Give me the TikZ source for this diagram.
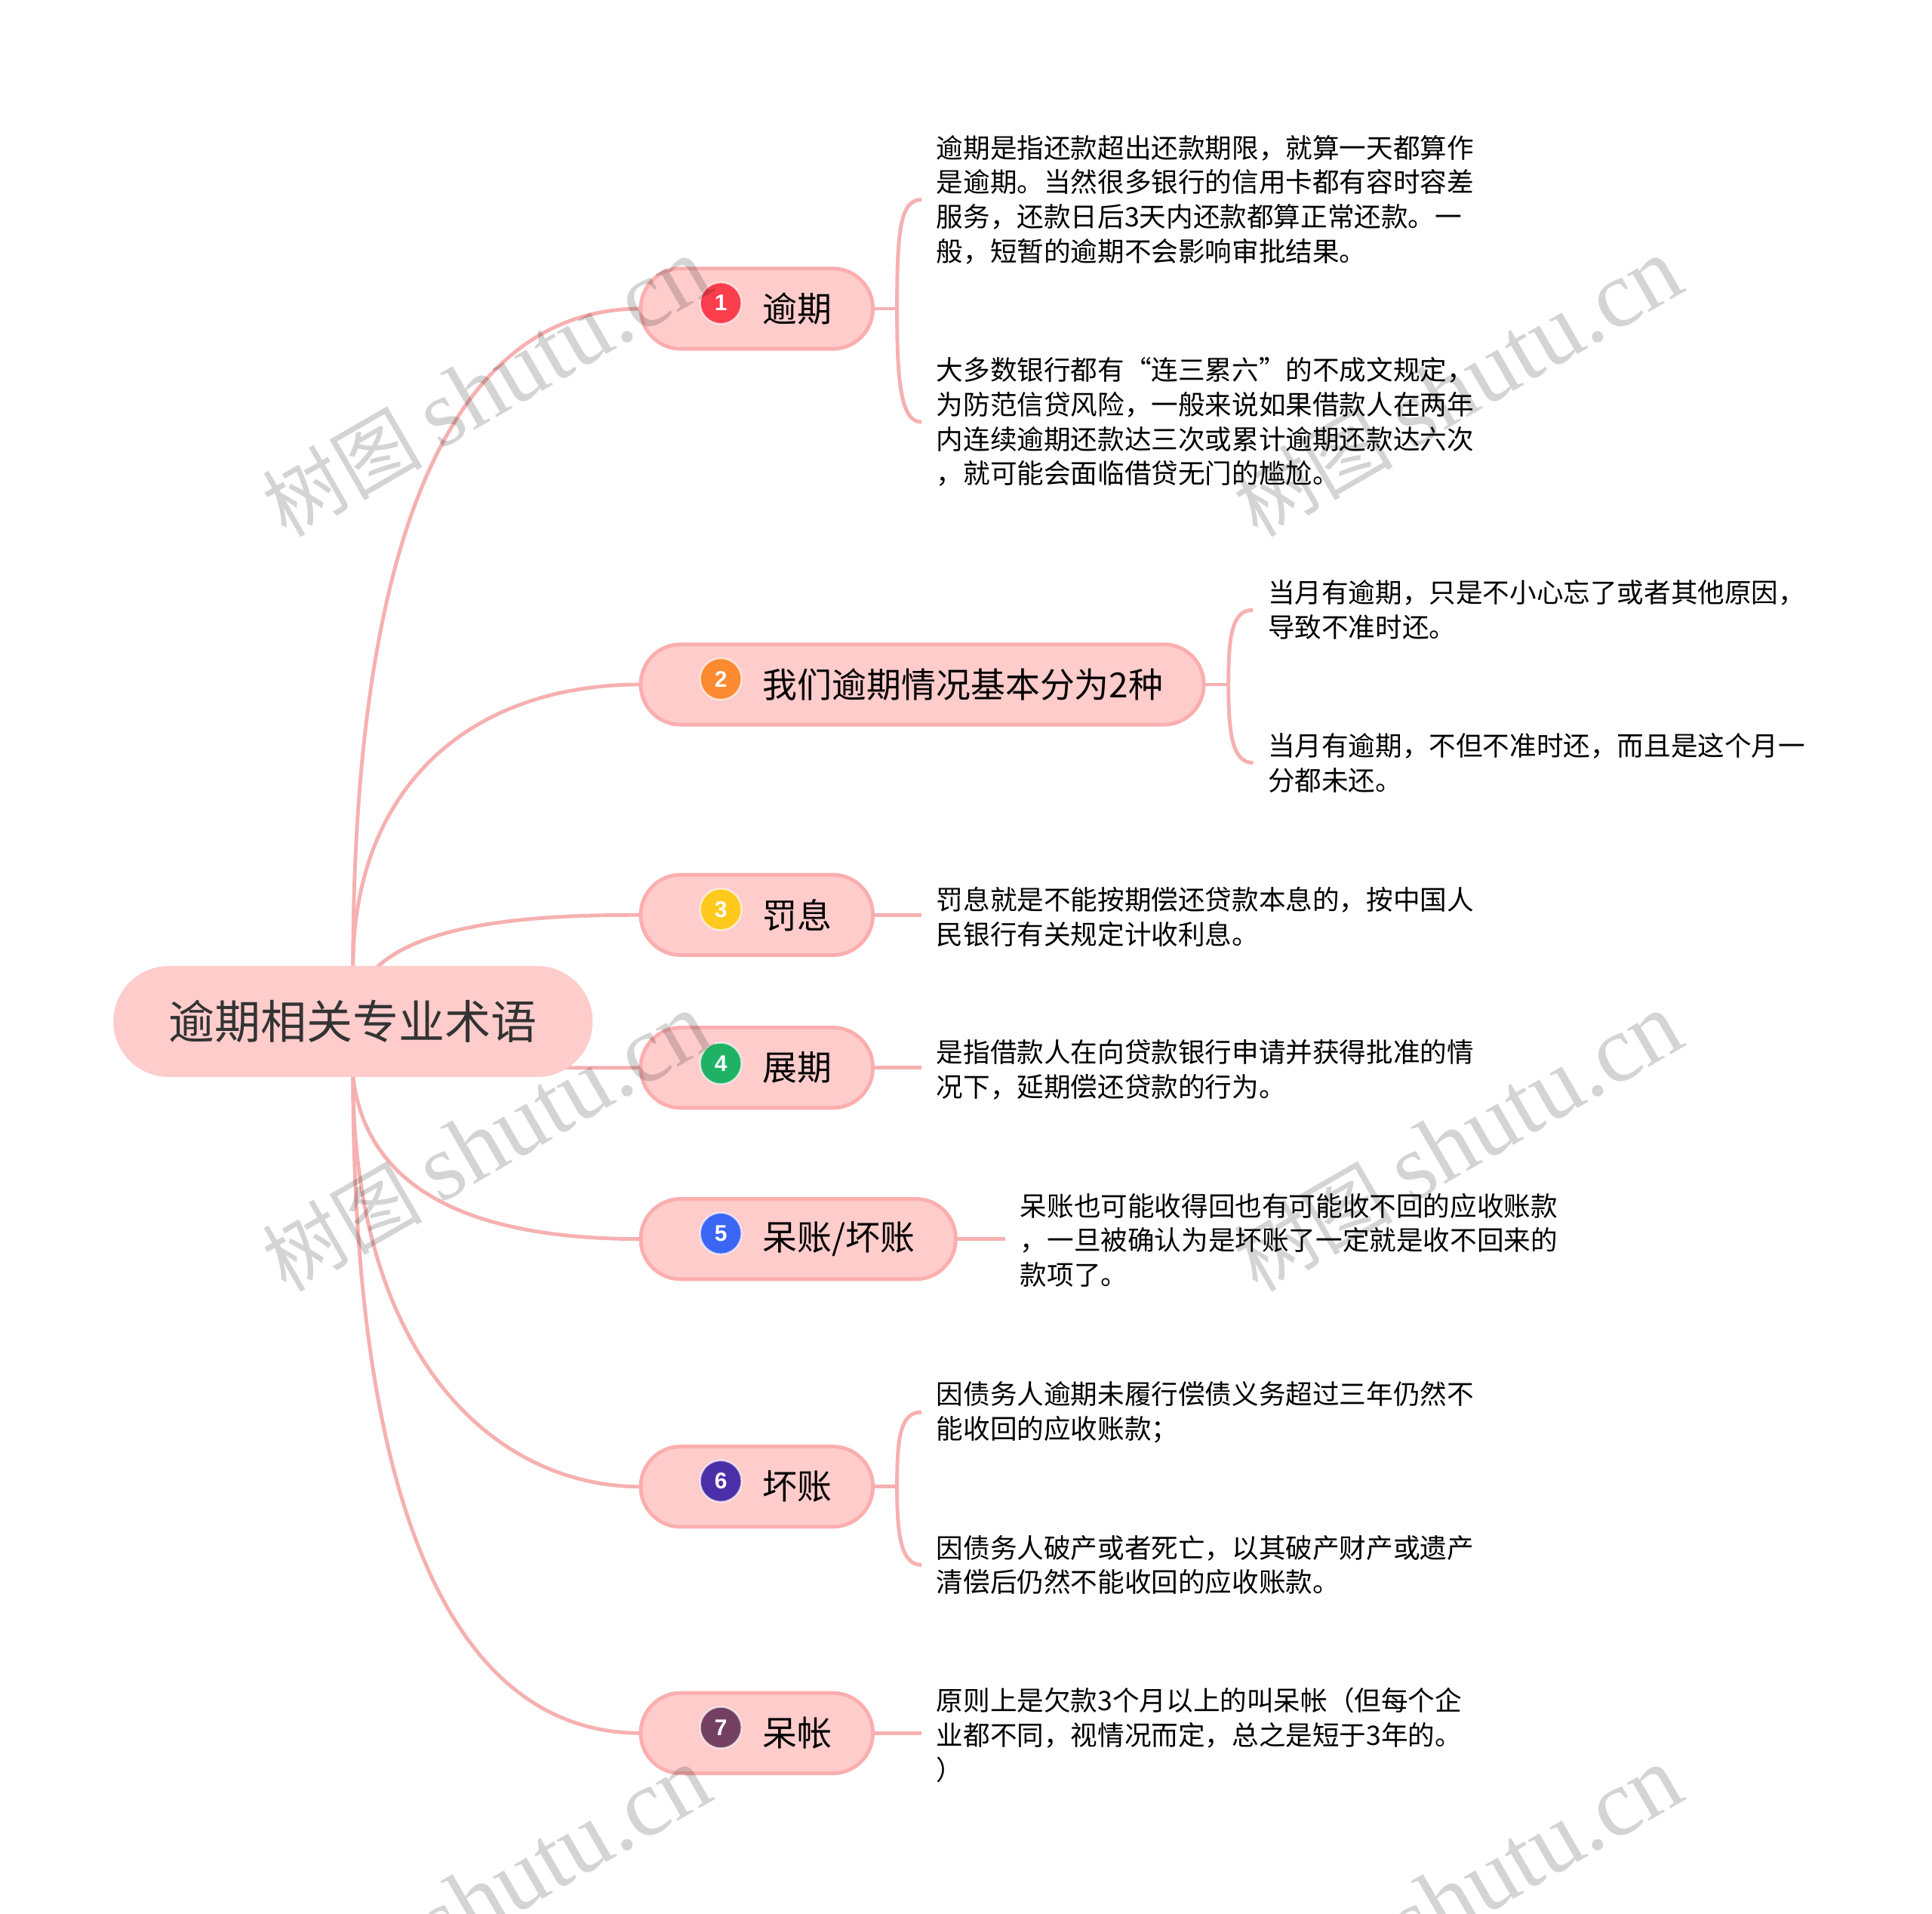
\documentclass[tikz,border=0pt]{standalone}
\usepackage{fontspec}
\setmainfont{Noto Sans CJK SC}
\newfontfamily\digitfont{Liberation Sans}
\newfontfamily\markfont{Liberation Serif}
\usetikzlibrary{backgrounds}
\definecolor{linkpink}{HTML}{F6B0B0}
\definecolor{fillpink}{HTML}{FFCCCC}
\definecolor{borderpink}{HTML}{FBAEAE}
\definecolor{rootink}{HTML}{333333}
\definecolor{badgered}{HTML}{FA3E4B}
\definecolor{badgeorange}{HTML}{FB8A30}
\definecolor{badgeyellow}{HTML}{FFC91E}
\definecolor{badgegreen}{HTML}{1FB265}
\definecolor{badgeblue}{HTML}{3B66F5}
\definecolor{badgeindigo}{HTML}{4A2FA8}
\definecolor{badgeplum}{HTML}{744062}
\newcommand{\badgegap}{\hspace*{53.9pt}}
\begin{document}
\begin{tikzpicture}[x=0.8163pt,y=-0.8163pt,
rootbox/.style={fill=fillpink,text=rootink,rounded corners=36.7pt,minimum width=317.5pt,minimum height=73.5pt,inner sep=0pt,outer sep=0pt,font=\fontsize{30.5}{36}\selectfont},
topicbox/.style={anchor=west,draw=borderpink,fill=fillpink,line width=2.45pt,rounded corners=26.5pt,minimum height=53.2pt,inner xsep=27pt,inner ysep=0pt,outer sep=0pt,text=black,font=\fontsize{22.95}{28}\selectfont},
leafbox/.style={anchor=west,align=left,inner xsep=9.8pt,inner ysep=0pt,outer sep=0pt,text=black,font=\fontsize{17.8}{22.86}\selectfont},
badge/.style={circle,draw=white,draw opacity=.65,line width=1.2pt,minimum size=27.5pt,inner sep=0pt,text=white,font=\digitfont\bfseries\fontsize{15}{15}\selectfont},
link/.style={draw=linkpink,line width=2.45pt},
markbox/.style={rotate=30,text=black,text opacity=.17,inner sep=0pt}]
\useasboundingbox (0,0) rectangle (1568,1553);
\node[rootbox] (root) at (286.5,829) {逾期相关专业术语};
\node[topicbox] (n1) at (520,250.5) {\badgegap 逾期};
\node[topicbox] (n2) at (520,555.5) {\badgegap 我们逾期情况基本分为2种};
\node[topicbox] (n3) at (520,742.5) {\badgegap 罚息};
\node[topicbox] (n4) at (520,866.5) {\badgegap 展期};
\node[topicbox] (n5) at (520,1005.5) {\badgegap 呆账/坏账};
\node[topicbox] (n6) at (520,1206.5) {\badgegap 坏账};
\node[topicbox] (n7) at (520,1406.5) {\badgegap 呆帐};
\node[badge,fill=badgered] (b1) at (585,246) {1};
\node[badge,fill=badgeorange] (b2) at (585,551) {2};
\node[badge,fill=badgeyellow] (b3) at (585,738) {3};
\node[badge,fill=badgegreen] (b4) at (585,863) {4};
\node[badge,fill=badgeblue] (b5) at (585,1001) {5};
\node[badge,fill=badgeindigo] (b6) at (585,1202) {6};
\node[badge,fill=badgeplum] (b7) at (585,1402) {7};
\node[leafbox] (l1a) at (748,162) {逾期是指还款超出还款期限，就算一天都算作\\是逾期。当然很多银行的信用卡都有容时容差\\服务，还款日后3天内还款都算正常还款。一\\般，短暂的逾期不会影响审批结果。};
\node[leafbox] (l1b) at (748,342.5) {大多数银行都有“连三累六”的不成文规定，\\为防范信贷风险，一般来说如果借款人在两年\\内连续逾期还款达三次或累计逾期还款达六次\\，就可能会面临借贷无门的尴尬。};
\node[leafbox] (l2a) at (1017,495) {当月有逾期，只是不小心忘了或者其他原因，\\导致不准时还。};
\node[leafbox] (l2b) at (1017,619) {当月有逾期，不但不准时还，而且是这个月一\\分都未还。};
\node[leafbox] (l3) at (748,744) {罚息就是不能按期偿还贷款本息的，按中国人\\民银行有关规定计收利息。};
\node[leafbox] (l4) at (748,868) {是指借款人在向贷款银行申请并获得批准的情\\况下，延期偿还贷款的行为。};
\node[leafbox] (l5) at (816,1006.5) {呆账也可能收得回也有可能收不回的应收账款\\，一旦被确认为是坏账了一定就是收不回来的\\款项了。};
\node[leafbox] (l6a) at (748,1146) {因债务人逾期未履行偿债义务超过三年仍然不\\能收回的应收账款；};
\node[leafbox] (l6b) at (748,1270) {因债务人破产或者死亡，以其破产财产或遗产\\清偿后仍然不能收回的应收账款。};
\node[leafbox] (l7) at (748,1408) {原则上是欠款3个月以上的叫呆帐（但每个企\\业都不同，视情况而定，总之是短于3年的。\\）};
\coordinate (f1) at (728,250.5);
\coordinate (f2) at (997,555.5);
\coordinate (f6) at (728,1206.5);
\begin{scope}[on background layer]
\draw[link] (root.north) .. controls (287,440) and (365,250.5) .. (n1.west);
\draw[link] (root.north) .. controls (287,640) and (380,555.5) .. (n2.west);
\draw[link] (root.center) .. controls (287,750) and (420,742.5) .. (n3.west);
\draw[link] (root.south) .. controls (287,866.5) and (400,866.5) .. (n4.west);
\draw[link] (root.south) .. controls (300,985) and (420,1005.5) .. (n5.west);
\draw[link] (root.south) .. controls (287,1100) and (400,1206.5) .. (n6.west);
\draw[link] (root.south) .. controls (287,1250) and (380,1406.5) .. (n7.west);
\draw[link] (n1.east) -- (f1);
\draw[link] (f1) .. controls (728,185) and (731,162) .. (l1a.west);
\draw[link] (f1) .. controls (728,310) and (731,342.5) .. (l1b.west);
\draw[link] (n2.east) -- (f2);
\draw[link] (f2) .. controls (997,515) and (1000,495) .. (l2a.west);
\draw[link] (f2) .. controls (997,595) and (1000,619) .. (l2b.west);
\draw[link] (n3.east) -- (n3.east -| l3.west);
\draw[link] (n4.east) -- (n4.east -| l4.west);
\draw[link] (n5.east) -- (n5.east -| l5.west);
\draw[link] (n6.east) -- (f6);
\draw[link] (f6) .. controls (728,1165) and (731,1146) .. (l6a.west);
\draw[link] (f6) .. controls (728,1245) and (731,1270) .. (l6b.west);
\draw[link] (n7.east) -- (n7.east -| l7.west);
\end{scope}
\begin{scope}
\clip (0,0) rectangle (1568,1553);
\foreach \mx/\my/\mname in {395/315/m1,1183/315/m2,395/927/m3,1183/927/m4,395/1539/m5,1183/1539/m6}
  \node[markbox] (\mname) at (\mx,\my) {\fontsize{53}{56}\selectfont 树图 \markfont\fontsize{63}{65}\selectfont shutu.cn};
\end{scope}
\end{tikzpicture}
\end{document}
